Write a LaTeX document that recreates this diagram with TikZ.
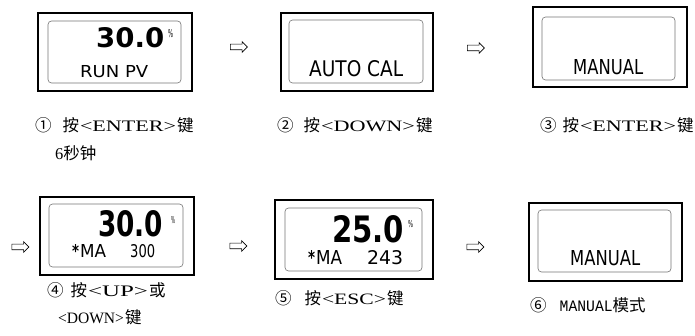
\documentclass[tikz,border=0pt]{standalone}
\usepackage{fontspec}
\usepackage{graphicx}
\usetikzlibrary{shapes.arrows}
\setmainfont{Liberation Serif}
\newfontfamily\cjk{Noto Sans CJK SC}
\newfontfamily\lcd{DejaVu Sans}
\newfontfamily\monof{Liberation Mono}
\newcommand\rs[3]{\resizebox{#1pt}{#2pt}{#3}}
\newcommand\lat[1]{\hspace{0.8pt}\resizebox{#1pt}{10.5pt}}
\tikzset{
  outerbox/.style={draw, line width=1.7pt, inner sep=0pt},
  innerbox/.style={draw=black!55, line width=0.6pt, rounded corners=3.5pt, inner sep=0pt},
  lcdtxt/.style={anchor=north west, inner sep=0pt, font=\lcd},
  lcdbig/.style={anchor=north west, inner sep=0pt, font=\lcd\bfseries},
  lbl/.style={anchor=west, inner sep=0pt, font=\fontsize{16.5pt}{19pt}\selectfont},
  wedge/.style={single arrow, draw, line width=0.6pt, inner sep=2.5pt,
    single arrow head extend=2.5pt, minimum height=17pt, fill=white}
}
\begin{document}
\begin{tikzpicture}[x=1pt,y=-1pt]
\useasboundingbox (0,0) rectangle (695,336);
% boxes
\node[outerbox, minimum width=154pt, minimum height=78pt] (b1) at (115,52) {};
\node[innerbox, minimum width=133pt, minimum height=62pt] (i1) at (114.5,52) {};
\node[outerbox, minimum width=152pt, minimum height=78pt] (b2) at (357,52) {};
\node[innerbox, minimum width=134pt, minimum height=63pt] (i2) at (356,51.5) {};
\node[outerbox, minimum width=154pt, minimum height=80pt] (b3) at (610,47) {};
\node[innerbox, minimum width=133pt, minimum height=63pt] (i3) at (608.5,48.5) {};
\node[outerbox, minimum width=154pt, minimum height=78pt] (b4) at (117,236) {};
\node[innerbox, minimum width=134pt, minimum height=63pt] (i4) at (116,235.5) {};
\node[outerbox, minimum width=158pt, minimum height=79pt] (b5) at (354,239.5) {};
\node[innerbox, minimum width=137pt, minimum height=63pt] (i5) at (353.5,239.5) {};
\node[outerbox, minimum width=153pt, minimum height=78pt] (b6) at (605.5,242) {};
\node[innerbox, minimum width=133pt, minimum height=62pt] (i6) at (604.5,241) {};
% LCD texts
\node[lcdbig] (t1a) at (96,27) {\rs{68}{20}{30.0}};
\node[lcdtxt] (t1p) at (168,29) {\rs{5}{8}{\%}};
\node[lcdtxt] (t1b) at (80,65) {\rs{68}{12}{RUN PV}};
\node[lcdtxt] (t2) at (309,60) {\rs{94}{16}{AUTO CAL}};
\node[lcdtxt] (t3) at (573,59) {\rs{70}{15}{MANUAL}};
\node[lcdbig] (t4a) at (98,210) {\rs{65}{26}{30.0}};
\node[lcdtxt] (t4p) at (171,216) {\rs{4}{7}{\%}};
\node[lcdbig] (t4s) at (72,244) {\rs{7}{13}{*}};
\node[lcdtxt] (t4m) at (80,244) {\rs{26}{13}{MA}};
\node[lcdtxt] (t4n) at (130,244) {\rs{25}{13}{300}};
\node[lcdbig] (t5a) at (332,215) {\rs{72}{27}{25.0}};
\node[lcdtxt] (t5p) at (408,220) {\rs{5}{7}{\%}};
\node[lcdbig] (t5s) at (308,250) {\rs{7}{14}{*}};
\node[lcdtxt] (t5m) at (316,250) {\rs{26}{14}{MA}};
\node[lcdtxt] (t5n) at (367,250) {\rs{36}{14}{243}};
\node[lcdtxt] (t6) at (570,250) {\rs{70}{15}{MANUAL}};
% arrows
\node[wedge] (a1) at (237.5,47) {};
\node[wedge] (a2) at (474.5,48) {};
\node[wedge] (a3) at (19,247) {};
\node[wedge] (a4) at (237,246) {};
\node[wedge] (a5) at (474,247) {};
% labels
\node[lbl] (l1) at (35,125.5) {{\cjk ①}\hspace{11pt}{\cjk 按}\lat{96}{<ENTER>}\hspace{1pt}{\cjk 键}};
\node[lbl] (l1b) at (55,153) {6{\cjk 秒钟}};
\node[lbl] (l2) at (277,125) {{\cjk ②}\hspace{10pt}{\cjk 按}\lat{94}{<DOWN>}\hspace{1pt}{\cjk 键}};
\node[lbl] (l3) at (540,125) {{\cjk ③}\hspace{6pt}{\cjk 按}\lat{96}{<ENTER>}\hspace{1pt}{\cjk 键}};
\node[lbl] (l4) at (47,290) {{\cjk ④}\hspace{7pt}{\cjk 按}\lat{60}{<UP>}\hspace{1pt}{\cjk 或}};
\node[lbl] (l4b) at (57,317) {\lat{66}{<DOWN>}\hspace{1pt}{\cjk 键}};
\node[lbl] (l5) at (275,298) {{\cjk ⑤}\hspace{13pt}{\cjk 按}\lat{64}{<ESC>}\hspace{1pt}{\cjk 键}};
\node[lbl] (l6) at (530,305) {{\cjk ⑥}\hspace{13pt}\resizebox{53pt}{10.5pt}{\monof MANUAL}{\cjk 模式}};
\end{tikzpicture}
\end{document}
